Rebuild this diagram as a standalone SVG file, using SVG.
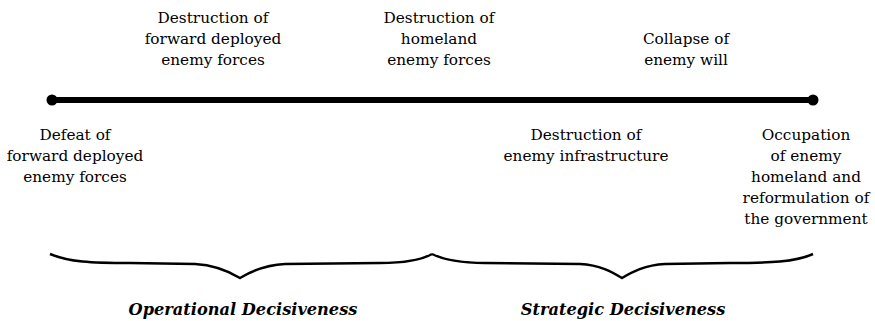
<svg xmlns="http://www.w3.org/2000/svg" width="875" height="321" viewBox="0 0 875 321">
<style>
.t{font-family:"DejaVu Serif","Liberation Serif",serif;font-size:15.3px;fill:#000;text-anchor:middle}
.b{font-family:"DejaVu Serif","Liberation Serif",serif;font-size:16.2px;font-weight:bold;font-style:italic;fill:#000;text-anchor:middle}
.br{fill:none;stroke:#000;stroke-width:2.5;stroke-linejoin:miter}
</style>
<rect width="875" height="321" fill="#fff"/>
<g id="connectors">
<line x1="52" y1="100" x2="813" y2="100" stroke="#000" stroke-width="6"/>
<circle cx="52" cy="100" r="5.5" fill="#000"/>
<circle cx="813" cy="100" r="5.5" fill="#000"/>
</g>
<g id="n1"><text class="t" x="213" y="23"><tspan x="213">Destruction of</tspan><tspan x="213" dy="21">forward deployed</tspan><tspan x="213" dy="21">enemy forces</tspan></text></g>
<g id="n2"><text class="t" x="439" y="23"><tspan x="439">Destruction of</tspan><tspan x="439" dy="21">homeland</tspan><tspan x="439" dy="21">enemy forces</tspan></text></g>
<g id="n3"><text class="t" x="686" y="44"><tspan x="686">Collapse of</tspan><tspan x="686" dy="21">enemy will</tspan></text></g>
<g id="n4"><text class="t" x="75" y="140"><tspan x="75">Defeat of</tspan><tspan x="75" dy="21">forward deployed</tspan><tspan x="75" dy="21">enemy forces</tspan></text></g>
<g id="n5"><text class="t" x="586" y="140"><tspan x="586">Destruction of</tspan><tspan x="586" dy="21">enemy infrastructure</tspan></text></g>
<g id="n6"><text class="t" x="806" y="140"><tspan x="806">Occupation</tspan><tspan x="806" dy="21">of enemy</tspan><tspan x="806" dy="21">homeland and</tspan><tspan x="806" dy="21">reformulation of</tspan><tspan x="806" dy="21">the government</tspan></text></g>
<g id="brace1">
<path class="br" d="M50,254 C70,262 90,263 130,263 L195,264 C215,265 230,272 240,278 C250,272 265,265 285,264 L380,263 C410,263 425,258 432,254"/>
<text class="b" x="243" y="315">Operational Decisiveness</text>
</g>
<g id="brace2">
<path class="br" d="M432,254 C440,258 455,263 485,263 L580,264 C600,265 612,272 622,278 C632,272 645,265 665,264 L730,263 C770,263 795,262 813,254"/>
<text class="b" x="623" y="315">Strategic Decisiveness</text>
</g>
</svg>
